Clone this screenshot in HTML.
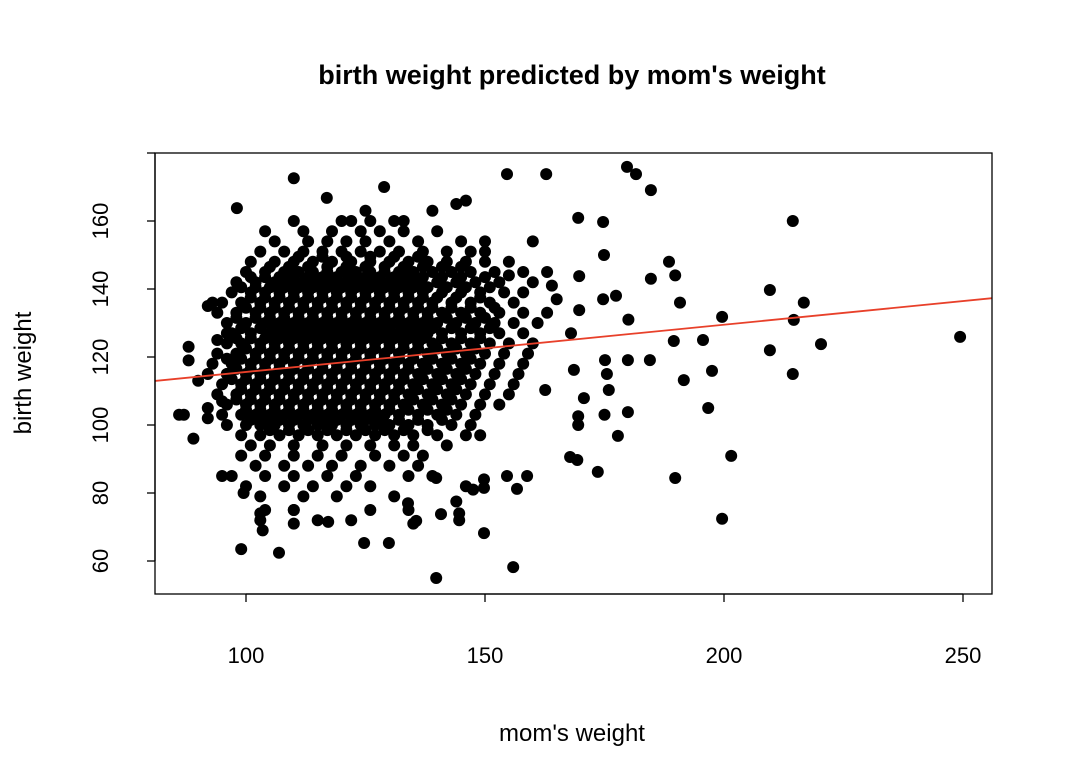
<!DOCTYPE html>
<html><head><meta charset="utf-8"><style>
html,body{margin:0;padding:0;background:#fff;}
svg{display:block;font-family:"Liberation Sans",Arial,sans-serif;}
</style></head><body>
<svg id="chart" width="1068" height="772" viewBox="0 0 1068 772">
<rect x="0" y="0" width="1068" height="772" fill="#fff"/>
<text x="572" y="84" text-anchor="middle" font-size="27" font-weight="bold">birth weight predicted by mom's weight</text>
<text x="572" y="741" text-anchor="middle" font-size="24">mom's weight</text>
<text x="0" y="0" transform="translate(31,373) rotate(-90)" text-anchor="middle" font-size="24">birth weight</text>
<g id="points"></g>
<g id="axes"></g>
<rect x="155" y="153" width="837" height="441" fill="none" stroke="#000" stroke-width="1.3"/>
</svg>
<script>
const xTicks = [100,150,200,250];
const yTicks = [60,80,100,120,140,160,180];
const yTickLabels = ["60","80","100","120","140","160",""];
const fitCoef = [101.7, 0.139];
const fitRange = [78, 258];
const rowBirth = [160,157,154,151,148,145,142,139,136,133,130,127,124,121,118,115,112,109,106,103,100,97,94,91,88,85,82,79,75,72];
const rowMom = [
[110,120,126,133],
[104,112,118,124,128,133,140],
[106,113,117,121,125,130,136,145,150],
[103,108,112,116,120,124,128,132,137,142,147,150],
[101,106,110,114,118,122,126,130,134,138,142,146,150,155],
[100,104,108,111,114,117,120,123,126,129,132,135,139,143,147,152,158],
[98,102,106,109,112,115,118,121,124,127,130,133,136,140,144,148,153,160],
[97,101,104,107,110,113,116,119,122,125,128,131,134,137,141,145,149,154,158],
[95,99,103,106,109,112,115,118,121,124,127,130,133,136,139,143,147,151,156],
[94,98,102,105,108,111,114,117,120,123,126,129,132,135,138,141,145,149,153,158,163],
[96,100,104,107,110,113,116,119,122,125,128,131,134,137,140,144,148,152,156,161],
[97,101,105,108,111,114,117,120,123,126,129,132,135,138,141,145,149,153,158],
[96,99,103,106,109,112,115,118,121,124,127,130,133,136,139,143,147,151,155,160],
[94,98,102,105,108,111,114,117,120,123,126,129,132,135,138,142,146,150,154,159],
[93,97,101,104,107,110,113,116,119,122,125,128,131,134,137,141,145,149,153,158],
[92,96,100,103,106,109,112,115,118,121,124,127,130,133,136,140,144,148,152,157],
[95,99,102,105,108,111,114,117,120,123,126,129,132,135,139,143,147,151,156],
[94,98,101,104,107,110,113,116,119,122,125,128,131,134,138,142,146,150,155],
[96,100,103,106,109,112,115,118,121,124,127,130,133,137,141,145,149,153],
[87,95,99,102,105,108,111,114,117,120,123,126,129,132,136,140,144,148],
[96,100,103,106,109,112,115,118,121,124,127,130,134,138,143,147],
[99,103,107,111,115,119,123,127,131,135,140,146,149],
[101,105,110,116,121,126,131,135,142],
[99,104,110,115,120,127,133,137],
[102,108,113,118,124,130,136],
[95,104,110,117,123,134,139],
[100,108,114,121,126,146],
[103,112,119,131],
[104,110,126,134],
[103,115,122]
];
const coreBirth = [149.5,146.5,143.5,140.5,137.5,134.5,131.5,128.5,125.5,122.5,119.5,116.5,113.5,110.5,107.5,104.5,101.5,98.5];
const coreMom = [
[111,116,121,126,131,136],
[105,109,113,117,121,125,129,133,137,141,145],
[101,104,107,110,113,116,119,122,125,128,131,134,137,141,145,150],
[99,102,105,108,111,114,117,120,123,126,129,132,135,138,142,146,151],
[101,104,107,110,113,116,119,122,125,128,131,134,137,140,144,149],
[100,103,106,109,112,115,118,121,124,127,130,133,136,139,143,147,152],
[98,102,105,108,111,114,117,120,123,126,129,132,135,138,142,146,150],
[99,103,106,109,112,115,118,121,124,127,130,133,136,139,143,147,151],
[98,101,104,107,110,113,116,119,122,125,128,131,134,137,141,145,149],
[100,103,106,109,112,115,118,121,124,127,130,133,136,140,144,148],
[96,99,102,105,108,111,114,117,120,123,126,129,132,135,139,143,147],
[98,101,104,107,110,113,116,119,122,125,128,131,134,138,142,146],
[97,100,103,106,109,112,115,118,121,124,127,130,133,137,141,145],
[99,102,105,108,111,114,117,120,123,126,129,132,136,140,144],
[98,101,104,107,110,113,116,119,122,125,128,131,135,139,143],
[100,103,106,109,112,115,118,121,124,127,130,134,138,142],
[101,104,107,110,113,116,119,122,125,128,132,136,141],
[105,109,113,117,121,125,129,133,138]
];
const outliers = [
[179.7,175.9],[181.6,173.8],[184.7,169.1],[169.5,160.9],[174.7,159.7],[214.4,160],
[154.6,173.8],[162.8,173.8],[110,172.6],[128.9,170],[116.9,166.8],[98.1,163.8],
[188.5,148],[189.8,144],[190.8,136],[184.7,143],[174.9,150],[169.7,143.8],[174.7,137],
[177.4,138],[180,131],[169.7,133.8],[209.6,139.7],[216.7,136],[214.6,130.9],[199.6,131.8],
[220.3,123.8],[249.4,125.9],[209.6,122],[214.4,115],[195.6,125],[189.5,124.7],[184.5,119.1],
[191.6,113.2],[197.5,115.9],[196.7,105],[177.8,96.8],[189.8,84.4],[201.5,90.9],[199.6,72.4],
[173.6,86.2],[169.3,89.7],[167.8,90.6],[169.5,102.6],[169.5,100],[170.7,107.9],[175.1,119.1],
[175.5,115],[179.9,119.1],[179.9,103.8],[175.9,110.3],[168.6,116.2],[162.6,110.3],
[158.8,85],[156.7,81.2],[154.6,85],[149.8,81.5],[149.8,84],[147.5,81],[149.8,68.2],
[144.6,72],[144.6,74],[144,77.5],[140.8,73.8],[139.8,84.4],[135.6,71.8],[135,71],
[133.9,77],[139.8,55],[155.9,58.2],[129.9,65.3],[124.7,65.3],[117.2,71.5],[106.9,62.4],
[99,63.5],[103.5,69],[110,71],[110,75],[103,74],[99.5,80],[97,85],[88,123],[88,119],
[89,96],[90,113],[92,135],[93,136],[92,105],[92,102],[94,125],[96,127],[95,107],[96,115],
[86,103],[122,160],[125,163],[131,160],[139,163],[144,165],[146,166],[155,144],[160,154],
[164,141],[163,145],[165,137],[175,103],[168,127]
];

const X0=246, XS=4.78, Y0=221, YS=3.4;
function sx(v){return X0+(v-100)*XS;}
function sy(v){return Y0+(160-v)*YS;}
const NS="http://www.w3.org/2000/svg";
const pts=document.getElementById('points');
function dot(x,y){
  const c=document.createElementNS(NS,'circle');
  c.setAttribute('cx',sx(x).toFixed(1));
  c.setAttribute('cy',sy(y).toFixed(1));
  c.setAttribute('r','6');
  c.setAttribute('fill','#000');
  
  
  pts.appendChild(c);
}
rowBirth.forEach((b,i)=>rowMom[i].forEach(m=>dot(m,b)));
coreBirth.forEach((b,i)=>coreMom[i].forEach(m=>dot(m,b)));
outliers.forEach(p=>dot(p[0],p[1]));
const ln=document.createElementNS(NS,'line');
ln.setAttribute('x1',sx(fitRange[0]));ln.setAttribute('y1',sy(fitCoef[0]+fitCoef[1]*fitRange[0]));
ln.setAttribute('x2',sx(fitRange[1]));ln.setAttribute('y2',sy(fitCoef[0]+fitCoef[1]*fitRange[1]));
ln.setAttribute('stroke','#e8402a');ln.setAttribute('stroke-width','1.8');


pts.appendChild(ln);
const svg=document.getElementById('chart');
const defs=document.createElementNS(NS,'defs');
defs.innerHTML='<clipPath id="pc"><rect x="155" y="153" width="837" height="441"/></clipPath>';
svg.insertBefore(defs,svg.firstChild);
pts.setAttribute('clip-path','url(#pc)');
const ax=document.getElementById('axes');
function line(x1,y1,x2,y2,name){
  const l=document.createElementNS(NS,'line');
  l.setAttribute('x1',x1);l.setAttribute('y1',y1);l.setAttribute('x2',x2);l.setAttribute('y2',y2);
  l.setAttribute('stroke','#000');l.setAttribute('stroke-width','1.3');
  
  
  ax.appendChild(l);
}
line(sx(xTicks[0]),594,sx(xTicks[xTicks.length-1]),594,'x-axis-line');
xTicks.forEach(t=>{
  line(sx(t),594,sx(t),602,'x-tick');
  const tx=document.createElementNS(NS,'text');
  tx.setAttribute('x',sx(t));tx.setAttribute('y',663);
  tx.setAttribute('text-anchor','middle');tx.setAttribute('font-size','22');
  tx.textContent=t;
  
  
  ax.appendChild(tx);
});
line(155,sy(yTicks[0]),155,sy(yTicks[yTicks.length-1]),'y-axis-line');
yTicks.forEach((t,i)=>{
  line(147,sy(t),155,sy(t),'y-tick');
  if(!yTickLabels[i])return;
  const tx=document.createElementNS(NS,'text');
  tx.setAttribute('transform','translate(108,'+sy(t)+') rotate(-90)');
  tx.setAttribute('text-anchor','middle');tx.setAttribute('font-size','22');
  tx.textContent=yTickLabels[i];
  
  
  ax.appendChild(tx);
});
</script>
</body></html>
